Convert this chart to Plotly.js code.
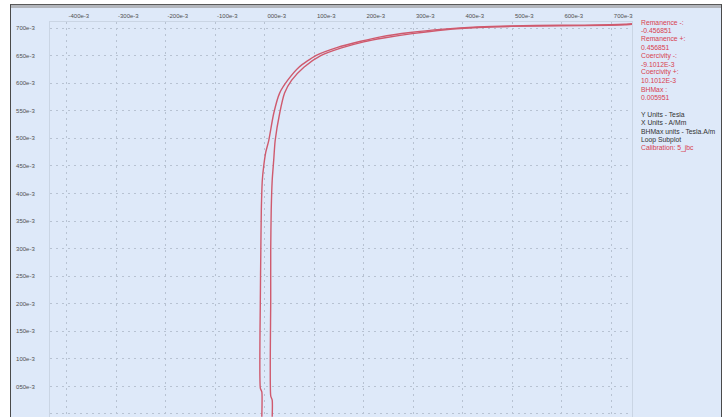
<!DOCTYPE html>
<html>
<head>
<meta charset="utf-8">
<script src="https://cdn.plot.ly/plotly-3.0.1.min.js"></script>
<style>
  html, body { margin: 0; padding: 0; background: #ffffff; width: 728px; height: 417px; overflow: hidden; }
  #frame { position: absolute; left: 10px; top: 4px; width: 710px; height: 413px;
           background: #dee9f9; border-top: 1px solid #5a5a5a; border-left: 1px solid #4a4a4a; border-right: 1px solid #4a4a4a; }
  #band { position: absolute; left: 11px; top: 5px; width: 710px; height: 3px; background: #b3b6bc; }
  #chart { position: absolute; left: 0; top: 0; width: 728px; height: 417px; }
</style>
</head>
<body>
<div id="frame"></div>
<div id="band"></div>
<div id="chart"></div>
<script>
// Branch 1 (left / descending) values
const branch1X = [-0.006, -0.006, -0.009, -0.009, -0.008, -0.007, -0.005, -0.002, 0.002, 0.008, 0.018, 0.030, 0.046, 0.069, 0.103, 0.147, 0.194, 0.234, 0.294, 0.361, 0.429, 0.496, 0.597, 0.698, 0.728, 0.742];
const branch1Y = [-0.005, 0.040, 0.047, 0.207, 0.297, 0.370, 0.424, 0.451, 0.475, 0.496, 0.545, 0.582, 0.605, 0.629, 0.650, 0.665, 0.676, 0.684, 0.692, 0.698, 0.702, 0.704, 0.705, 0.706, 0.707, 0.708];
// Branch 2 (right / ascending)
const branch2X = [0.015, 0.015, 0.012, 0.012, 0.012, 0.013, 0.015, 0.018, 0.021, 0.030, 0.040, 0.054, 0.079, 0.113, 0.155, 0.200, 0.240, 0.298, 0.365, 0.431, 0.498, 0.597, 0.698, 0.728, 0.742];
const branch2Y = [-0.005, 0.025, 0.033, 0.207, 0.297, 0.370, 0.424, 0.460, 0.496, 0.545, 0.582, 0.605, 0.629, 0.650, 0.664, 0.675, 0.682, 0.690, 0.697, 0.701, 0.703, 0.704, 0.705, 0.706, 0.707];

const xTickVals = [-0.4, -0.3, -0.2, -0.1, 0, 0.1, 0.2, 0.3, 0.4, 0.5, 0.6, 0.7];
const xTickText = ["-400e-3", "-300e-3", "-200e-3", "-100e-3", "000e-3", "100e-3", "200e-3", "300e-3", "400e-3", "500e-3", "600e-3", "700e-3"];
const yTickVals = [0.7, 0.65, 0.6, 0.55, 0.5, 0.45, 0.4, 0.35, 0.3, 0.25, 0.2, 0.15, 0.1, 0.05, 0];
const yTickText = ["700e-3", "650e-3", "600e-3", "550e-3", "500e-3", "450e-3", "400e-3", "350e-3", "300e-3", "250e-3", "200e-3", "150e-3", "100e-3", "050e-3", "000e-3"];

const infoLines = ["Remanence -:", "-0.456851", "Remanence +:", "0.456851", "Coercivity -:", "-9.1012E-3", "Coercivity +:", "10.1012E-3", "BHMax :", "0.005951", "", "Y Units - Tesla", "X Units - A/Mm", "BHMax units - Tesla.A/m", "Loop Subplot", "Calibration: 5_jbc"];
const infoRed = [true, true, true, true, true, true, true, true, true, true, false, false, false, false, false, true];

const lineColor = '#cf5a6e';
const traces = [
  { x: branch1X, y: branch1Y, mode: 'lines', type: 'scatter', line: { color: lineColor, width: 1.4, shape: 'spline', smoothing: 0.6 }, hoverinfo: 'skip' },
  { x: branch2X, y: branch2Y, mode: 'lines', type: 'scatter', line: { color: lineColor, width: 1.4, shape: 'spline', smoothing: 0.6 }, hoverinfo: 'skip' }
];

const annotations = [];
infoLines.forEach((t, i) => {
  if (!t) return;
  annotations.push({
    xref: 'paper', yref: 'paper', x: 1, y: 1, xanchor: 'left', yanchor: 'middle',
    xshift: 7, yshift: -(i * 8.4), showarrow: false, text: t,
    font: { family: 'Liberation Sans, Arial, sans-serif', size: 6.8, color: infoRed[i] ? '#d8404f' : '#333333' }
  });
});

const layout = {
  width: 728, height: 417,
  margin: { l: 50, r: 96, t: 22, b: 0, pad: 0 },
  paper_bgcolor: 'rgba(0,0,0,0)',
  plot_bgcolor: 'rgba(0,0,0,0)',
  showlegend: false,
  xaxis: {
    side: 'top', range: [-0.434, 0.742], tickmode: 'array', tickvals: xTickVals, ticktext: xTickText,
    showgrid: true, gridcolor: '#b7c2d2', griddash: '2px,4px', gridwidth: 1,
    zeroline: false, showline: true, linecolor: '#cad5e4', mirror: true,
    ticks: '', ticklabelstandoff: 1, ticklabelshift: 12,
    tickfont: { family: 'Liberation Sans, Arial, sans-serif', size: 6, color: '#505050' }
  },
  yaxis: {
    range: [-0.0055, 0.711], tickmode: 'array', tickvals: yTickVals, ticktext: yTickText,
    showgrid: true, gridcolor: '#b7c2d2', griddash: '2px,4px', gridwidth: 1,
    zeroline: false, showline: true, linecolor: '#cad5e4', mirror: true,
    ticks: '', ticklabelstandoff: 13,
    tickfont: { family: 'Liberation Sans, Arial, sans-serif', size: 6, color: '#505050' }
  },
  annotations: annotations
};

Plotly.newPlot('chart', traces, layout, { displayModeBar: false, staticPlot: true });
</script>
</body>
</html>
